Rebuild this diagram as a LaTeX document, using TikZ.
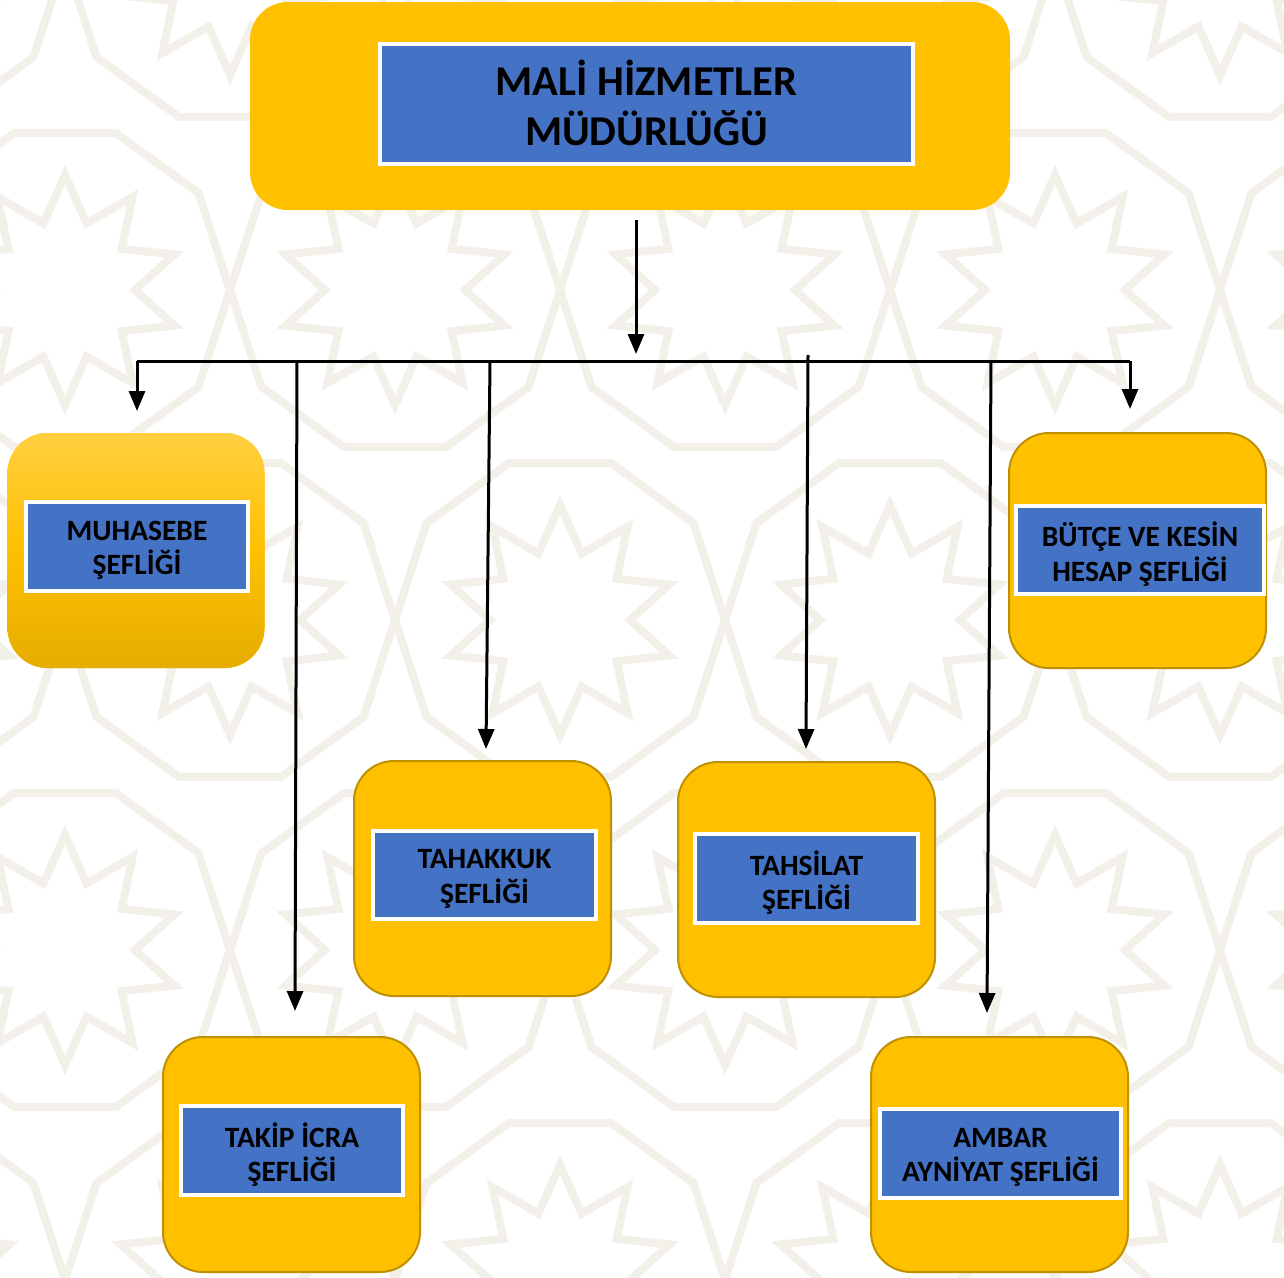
\documentclass[tikz,border=0pt]{standalone}
\usepackage{fontspec}
\setmainfont{Carlito}
\usetikzlibrary{arrows.meta,calc}
\definecolor{gold}{HTML}{FFC000}
\definecolor{goldedge}{HTML}{BF9000}
\definecolor{blueb}{HTML}{4472C4}
\definecolor{patt}{HTML}{F2F0E9}
\tikzset{
  outerbox/.style={rectangle, rounded corners=40pt, fill=gold, draw=goldedge, line width=2pt,
    minimum width=257pt, minimum height=235pt, inner sep=0pt},
  innerbox/.style={rectangle, fill=blueb, draw=white, line width=4pt, inner sep=0pt},
  boxtext/.style={font=\bfseries\fontsize{29.5}{34.5}\selectfont, align=center, text=black,
    inner sep=0pt, yshift=-4pt},
  conn/.style={line width=3pt, draw=black},
  arr/.style={conn, -{Triangle[width=16pt,length=20pt]}},
  pattline/.style={draw=patt, line width=8pt, line join=miter}
}
\begin{document}
\begin{tikzpicture}[x=1pt,y=-1pt]
\useasboundingbox (0,0) rectangle (1284,1277);
\fill[white] (0,0) rectangle (1284,1277);
% background pattern (approximate)
\begin{scope}
\clip (0,0) rectangle (1284,1277);
\foreach \cy [count=\row] in {-40,290,620,950,1280} {
  \foreach \cx in {-100,230,560,890,1220,1550} {
    \pgfmathsetmacro{\ox}{mod(\row,2)==0 ? 165 : 0}
    \draw[pattline] plot[samples at={0,...,19}]
      ({\cx+\ox+ifthenelse(mod(\x,2)==0,115,70)*cos(90+18*\x)},
       {\cy+ifthenelse(mod(\x,2)==0,115,70)*sin(90+18*\x)}) -- cycle;
    \draw[pattline] plot[samples at={0,...,9}]
      ({\cx+\ox+165*cos(108+36*\x)},{\cy+165*sin(108+36*\x)}) -- cycle;
  }
}
\end{scope}

% top box
\node[rectangle, rounded corners=38pt, fill=gold, minimum width=760pt, minimum height=208pt]
  (top) at (630,106) {};
\node[innerbox, minimum width=533pt, minimum height=120pt,
  label={[boxtext, font=\bfseries\fontsize{42.5}{50}\selectfont, yshift=5pt]center:MALİ HİZMETLER\\MÜDÜRLÜĞÜ}]
  (topin) at (646.5,104) {};

% child boxes
\node[outerbox, draw=none, top color=gold!75!white, bottom color=gold!90!black, middle color=gold]
  (muh) at (136,550.5) {};
\node[innerbox, minimum width=222pt, minimum height=89pt,
  label={[boxtext]center:MUHASEBE\\ŞEFLİĞİ}] (muhin) at (137,546.5) {};

\node[outerbox] (but) at (1137.5,550.5) {};
\node[innerbox, minimum width=248pt, minimum height=88pt,
  label={[boxtext]center:BÜTÇE VE KESİN\\HESAP ŞEFLİĞİ}] (butin) at (1140,550) {};

\node[outerbox] (tah) at (482.5,878.5) {};
\node[innerbox, minimum width=223pt, minimum height=88pt,
  label={[boxtext]center:TAHAKKUK\\ŞEFLİĞİ}] (tahin) at (484.5,875) {};

\node[outerbox] (ths) at (806.5,879.5) {};
\node[innerbox, minimum width=223pt, minimum height=89pt,
  label={[boxtext]center:TAHSİLAT\\ŞEFLİĞİ}] (thsin) at (806.5,878.5) {};

\node[outerbox] (tak) at (291.5,1154.5) {};
\node[innerbox, minimum width=222pt, minimum height=89pt,
  label={[boxtext]center:TAKİP İCRA\\ŞEFLİĞİ}] (takin) at (292,1150.5) {};

\node[outerbox] (amb) at (999.5,1154.5) {};
\node[innerbox, minimum width=241pt, minimum height=89pt,
  label={[boxtext]center:AMBAR\\AYNİYAT ŞEFLİĞİ}] (ambin) at (1000.5,1153.5) {};

% connector coordinates
\coordinate (topout) at (636,220);
\coordinate (busc) at (636,354);
\coordinate (busl) at (137,361);
\coordinate (busr) at (1130,361);
\coordinate (b1) at (297,361);
\coordinate (b2) at (490,361);
\coordinate (b3) at (808,355);
\coordinate (b4) at (991,361);
\coordinate (e0) at (137,411);
\coordinate (e1) at (295,1011);
\coordinate (e2) at (486,749);
\coordinate (e3) at (806,749);
\coordinate (e4) at (987,1013);
\coordinate (e5) at (1130,409);

\draw[arr] (topout) -- (busc);
\draw[conn] (busl) -- (busr);
\draw[arr] (busl) -- (e0);
\draw[arr] (busr) -- (e5);
\draw[arr] (b1) -- (e1);
\draw[arr] (b2) -- (e2);
\draw[arr] (b3) -- (e3);
\draw[arr] (b4) -- (e4);
\end{tikzpicture}
\end{document}
